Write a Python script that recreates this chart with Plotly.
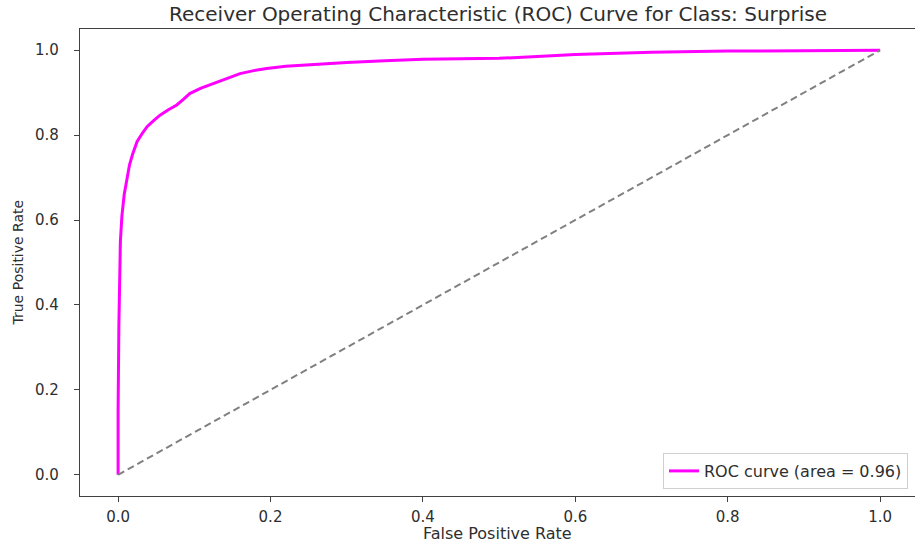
import plotly.graph_objects as go

# ROC curve points for the "Surprise" class
fpr = [0.0, 0.0, 0.001, 0.002, 0.003, 0.005, 0.008, 0.011, 0.015, 0.019,
       0.025, 0.032, 0.038, 0.047, 0.055, 0.066, 0.077, 0.086, 0.094, 0.108,
       0.120, 0.130, 0.145, 0.160, 0.178, 0.195, 0.220, 0.250, 0.300, 0.350,
       0.400, 0.450, 0.500, 0.550, 0.600, 0.700, 0.800, 0.900, 1.000]
tpr = [0.0, 0.15, 0.35, 0.50, 0.55, 0.61, 0.66, 0.69, 0.73, 0.755,
       0.785, 0.805, 0.820, 0.835, 0.847, 0.860, 0.871, 0.885, 0.898, 0.910,
       0.918, 0.925, 0.935, 0.945, 0.952, 0.957, 0.962, 0.966, 0.971, 0.975,
       0.979, 0.980, 0.981, 0.985, 0.990, 0.995, 0.998, 0.999, 1.000]
roc_auc = 0.96

# chance diagonal
chance_x = [0.0, 1.0]
chance_y = [0.0, 1.0]

tick_vals = [0.0, 0.2, 0.4, 0.6, 0.8, 1.0]
tick_text = ["0.0", "0.2", "0.4", "0.6", "0.8", "1.0"]

title_text = "Receiver Operating Characteristic (ROC) Curve for Class: Surprise"
x_label = "False Positive Rate"
y_label = "True Positive Rate"

FONT = "DejaVu Sans"
INK = "#2e2e2e"
W, H = 915, 543
ML, MR, MT, MB = 80, 0, 29, 47
PW, PH = W - ML - MR, H - MT - MB

fig = go.Figure()
fig.add_trace(go.Scatter(
    x=fpr, y=tpr, mode="lines",
    line=dict(color="#ff00ff", width=3),
    name=f"ROC curve (area = {roc_auc:.2f})",
))
fig.add_trace(go.Scatter(
    x=chance_x, y=chance_y, mode="lines",
    line=dict(color="#808080", width=2, dash="7px,4px"),
    showlegend=False, hoverinfo="skip",
))

axis_common = dict(
    showgrid=False, zeroline=False,
    showline=True, linecolor="#404040", linewidth=1.3, mirror=True,
    ticks="outside", ticklen=5, tickwidth=1.2, tickcolor="#404040",
    tickvals=tick_vals, ticktext=tick_text,
    tickfont=dict(family=FONT, size=15, color=INK),
)

fig.update_layout(
    width=W, height=H,
    margin=dict(l=ML, r=MR, t=MT, b=MB),
    paper_bgcolor="white", plot_bgcolor="white",
    xaxis=dict(range=[-0.05, 1.0458], ticklabelstandoff=2, **axis_common),
    yaxis=dict(range=[-0.05, 1.05], ticklabelstandoff=12, **axis_common),
    showlegend=True,
    legend=dict(
        x=0.9916, y=0.015, xanchor="right", yanchor="bottom",
        bgcolor="rgba(255,255,255,0.8)", bordercolor="#d0d0d0", borderwidth=1,
        font=dict(family=FONT, size=16, color=INK),
        tracegroupgap=0,
    ),
    annotations=[
        dict(text=title_text, xref="paper", yref="paper",
             x=0.5, y=1 + 15 / PH, xanchor="center", yanchor="middle",
             showarrow=False, font=dict(family=FONT, size=20, color=INK)),
        dict(text=x_label, xref="paper", yref="paper",
             x=0.5, y=-(533 - (H - MB)) / PH, xanchor="center", yanchor="middle",
             showarrow=False, font=dict(family=FONT, size=16, color=INK)),
        dict(text=y_label, xref="paper", yref="paper", textangle=-90,
             x=-(ML - 17) / PW, y=0.5, xanchor="center", yanchor="middle",
             showarrow=False, font=dict(family=FONT, size=14, color=INK)),
    ],
)

fig.write_html("out.html")
